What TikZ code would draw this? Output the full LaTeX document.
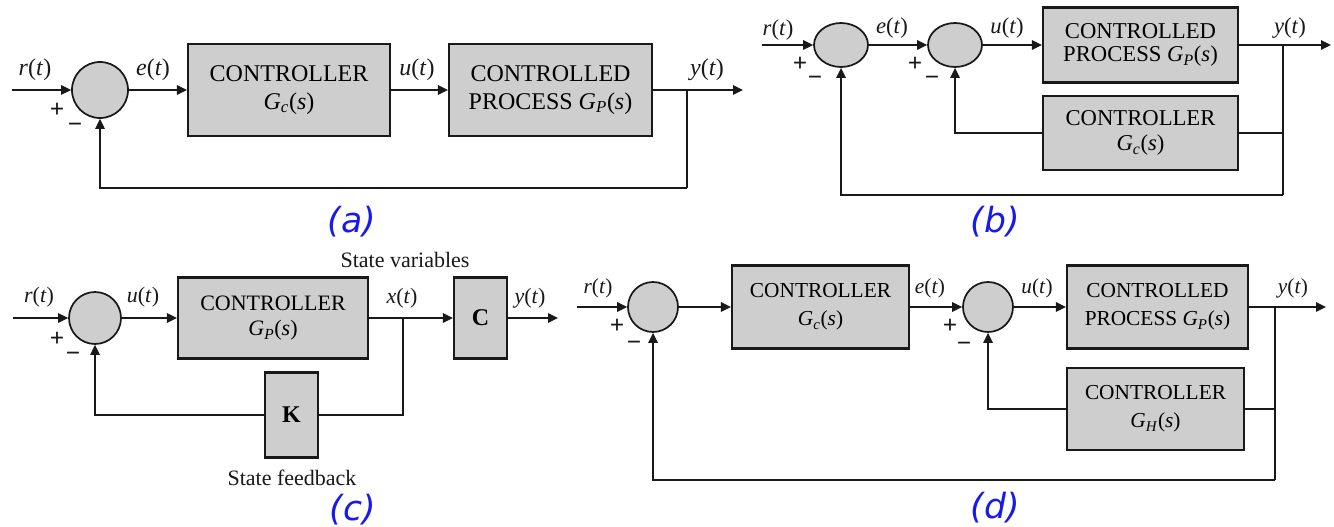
\documentclass[tikz,border=0pt]{standalone}
\usepackage{fontspec}
\setmainfont{Liberation Serif}
\newfontfamily\capfont{DejaVu Sans}
\usetikzlibrary{arrows.meta,shapes.geometric}
\definecolor{boxgray}{RGB}{206,206,206}
\definecolor{inkc}{RGB}{25,25,25}
\definecolor{capblue}{RGB}{25,25,235}
\newcommand\Gfn[1]{\textit{G}\textsubscript{\textit{#1}}(\textit{s})}
\newcommand\sg[1]{\textit{#1}(\textit{t})}
\begin{document}
\begin{tikzpicture}[x=0.75pt,y=-0.75pt,
 blk/.style={draw=inkc,fill=boxgray,line width=1.6pt,inner sep=0pt,align=center},
 sumc/.style={circle,draw=inkc,fill=boxgray,line width=1.3pt,inner sep=0pt,minimum size=#1},
 sume/.style={ellipse,draw=inkc,fill=boxgray,line width=1.3pt,inner sep=0pt,minimum width=40.5pt,minimum height=33pt},
 ln/.style={draw=inkc,line width=1.35pt},
 sig/.style={ln,-{Triangle[length=7.5pt,width=7pt]}},
 lbl/.style={inner sep=0pt,text=inkc},
 sgn/.style={inner sep=0pt,text=inkc,font=\fontsize{19}{19}\selectfont\bfseries},
 paneltag/.style={inner sep=0pt,text=capblue,font=\capfont\itshape\fontsize{26}{26}\selectfont}]
\fill[white] (0,0) rectangle (1334,527);
\useasboundingbox (0,0) rectangle (1334,527);

% ---------------- (a) ----------------
\begin{scope}[font=\fontsize{18}{21}\selectfont]
\coordinate (ain) at (12,90);
\node[sumc=42pt] (asum) at (100,90) {};
\node[blk,minimum width=151.5pt,minimum height=69pt] (agc) at (289,90) {CONTROLLER\\\Gfn{c}};
\node[blk,minimum width=152.25pt,minimum height=69pt] (agp) at (550.5,90) {CONTROLLED\\PROCESS \Gfn{P}};
\coordinate (abr) at (687,90);
\coordinate (aout) at (743,90);
\coordinate (afb) at (687,188);
\draw[sig] (ain) -- (asum);
\draw[sig] (asum) -- (agc);
\draw[sig] (agc) -- (agp);
\draw[ln] (agp) -- (abr);
\draw[sig] (abr) -- (aout);
\draw[ln] (abr) -- (afb);
\draw[sig] (afb) -| (asum);
\node[lbl] (ar) at (35,70) {\sg{r}};
\node[lbl] (ae) at (153,70) {\sg{e}};
\node[lbl] (au) at (417,70) {\sg{u}};
\node[lbl] (ay) at (707,70) {\sg{y}};
\node[sgn] (ap) at (57,110) {+};
\node[sgn] (am) at (75,128) {−};
\end{scope}
\node[paneltag] (capa) at (352,222) {(a)};

% ---------------- (b) ----------------
\begin{scope}[font=\fontsize{17}{17.5}\selectfont]
\coordinate (bin) at (762,45);
\node[sume] (bs1) at (841,45) {};
\node[sume] (bs2) at (955,45) {};
\node[blk,minimum width=146.25pt,minimum height=56.25pt] (bgp) at (1140.5,45) {CONTROLLED\\PROCESS \Gfn{P}};
\node[blk,minimum width=146.25pt,minimum height=55.5pt,font=\fontsize{17}{19}\selectfont] (bgc) at (1140.5,133) {CONTROLLER\\\Gfn{c}};
\coordinate (bbr) at (1283,45);
\coordinate (bout) at (1331,45);
\coordinate (bfb) at (1283,195);
\draw[sig] (bin) -- (bs1);
\draw[sig] (bs1) -- (bs2);
\draw[sig] (bs2) -- (bgp);
\draw[ln] (bgp) -- (bbr);
\draw[sig] (bbr) -- (bout);
\draw[ln] (bbr) -- (bfb);
\draw[ln] (bgc) -- (bgc -| bbr);
\draw[sig] (bgc) -| (bs2);
\draw[sig] (bfb) -| (bs1);
\node[lbl] (br) at (778,30) {\sg{r}};
\node[lbl] (be) at (892,28) {\sg{e}};
\node[lbl] (bu) at (1007,28) {\sg{u}};
\node[lbl] (by) at (1290,28) {\sg{y}};
\node[sgn] (bp1) at (800,64) {+};
\node[sgn] (bm1) at (815,81) {−};
\node[sgn] (bp2) at (915,64) {+};
\node[sgn] (bm2) at (932,81) {−};
\end{scope}
\node[paneltag] (capb) at (995,222) {(b)};

% ---------------- (c) ----------------
\begin{scope}[font=\fontsize{16.5}{19}\selectfont]
\coordinate (cin) at (13,318);
\node[sumc=39pt] (cs) at (95,318) {};
\node[blk,minimum width=142.5pt,minimum height=60.75pt] (cgp) at (273,318) {CONTROLLER\\\Gfn{P}};
\coordinate (cbr) at (403,318);
\node[blk,minimum width=39.75pt,minimum height=60.75pt,font=\fontsize{18}{18}\selectfont\bfseries] (cc) at (480.5,318) {C};
\coordinate (cout) at (558,318);
\node[blk,minimum width=39.75pt,minimum height=63.75pt,font=\fontsize{18}{18}\selectfont\bfseries] (ck) at (291.5,415) {K};
\draw[sig] (cin) -- (cs);
\draw[sig] (cs) -- (cgp);
\draw[ln] (cgp) -- (cbr);
\draw[sig] (cbr) -- (cc);
\draw[sig] (cc) -- (cout);
\draw[ln] (cbr) |- (ck);
\draw[sig] (ck) -| (cs);
\node[lbl] (cr) at (39,297) {\sg{r}};
\node[lbl] (cu) at (143,297) {\sg{u}};
\node[lbl] (cx) at (402,298) {\sg{x}};
\node[lbl] (cy) at (530,298) {\sg{y}};
\node[lbl] (csv) at (405,260) {State variables};
\node[lbl] (csf) at (292,478) {State feedback};
\node[sgn] (cp) at (57,339) {+};
\node[sgn] (cm) at (73,357) {−};
\end{scope}
\node[paneltag] (capc) at (353,510) {(c)};

% ---------------- (d) ----------------
\begin{scope}[font=\fontsize{16}{21}\selectfont]
\coordinate (din) at (577,307);
\node[sumc=37.5pt] (ds1) at (653,307) {};
\node[blk,minimum width=132.75pt,minimum height=62.25pt] (dgc) at (820.5,307) {CONTROLLER\\\Gfn{c}};
\node[sumc=37.5pt] (ds2) at (988,307) {};
\node[blk,minimum width=135.75pt,minimum height=62.25pt] (dgp) at (1157.5,307) {CONTROLLED\\PROCESS \Gfn{P}};
\node[blk,minimum width=132.75pt,minimum height=61.5pt] (dgh) at (1155.5,409) {CONTROLLER\\\Gfn{H}};
\coordinate (dbr) at (1275,307);
\coordinate (dout) at (1326,307);
\coordinate (dfb) at (1275,480);
\draw[sig] (din) -- (ds1);
\draw[sig] (ds1) -- (dgc);
\draw[sig] (dgc) -- (ds2);
\draw[sig] (ds2) -- (dgp);
\draw[ln] (dgp) -- (dbr);
\draw[sig] (dbr) -- (dout);
\draw[ln] (dbr) -- (dfb);
\draw[ln] (dgh) -- (dgh -| dbr);
\draw[sig] (dgh) -| (ds2);
\draw[sig] (dfb) -| (ds1);
\node[lbl] (dr) at (598,288) {\sg{r}};
\node[lbl] (de) at (930,288) {\sg{e}};
\node[lbl] (du) at (1037,288) {\sg{u}};
\node[lbl] (dy) at (1293,288) {\sg{y}};
\node[sgn] (dp1) at (617,326) {+};
\node[sgn] (dm1) at (634,346) {−};
\node[sgn] (dp2) at (950,326) {+};
\node[sgn] (dm2) at (964,347) {−};
\end{scope}
\node[paneltag] (capd) at (995,508) {(d)};
\end{tikzpicture}
\end{document}
